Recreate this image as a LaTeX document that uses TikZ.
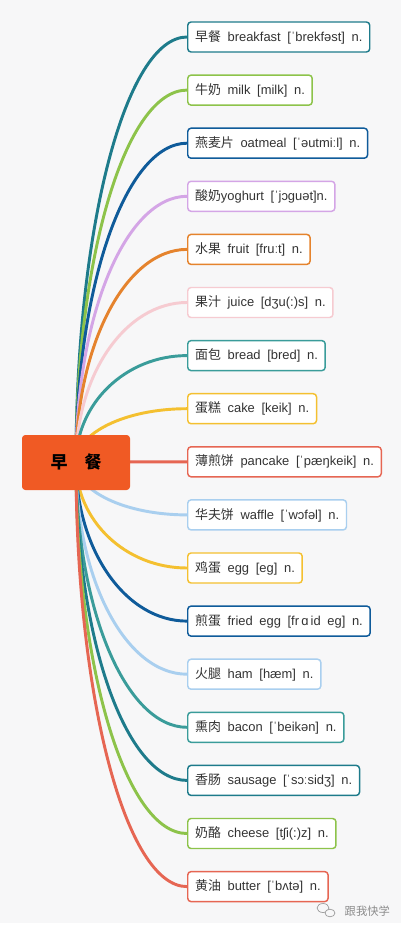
\documentclass[tikz,border=0pt]{standalone}
\usepackage{fontspec}
\setmainfont{Liberation Sans}
\newfontfamily\cjk{Noto Sans CJK SC}
\usetikzlibrary{calc,backgrounds}
\newcommand\zh[1]{{\cjk #1}}
\newcommand\gp{\hspace{5pt}}
\newcommand\entrytext[3]{\zh{#1}\gp #2\gp #3\gp n.}
\definecolor{bgc}{HTML}{F7F7F8}
\definecolor{rootc}{HTML}{F05A24}
\definecolor{tealD}{HTML}{1E7B8B}
\definecolor{greenL}{HTML}{8DC34A}
\definecolor{blueD}{HTML}{0F5B9A}
\definecolor{purpleL}{HTML}{D4A5E6}
\definecolor{orangeM}{HTML}{E5832D}
\definecolor{pinkL}{HTML}{F6CBD1}
\definecolor{tealM}{HTML}{3A9C9A}
\definecolor{yellowM}{HTML}{F4C030}
\definecolor{salmon}{HTML}{E66653}
\definecolor{blueL}{HTML}{A9CFEF}
\begin{document}
\begin{tikzpicture}[x=0.75pt,y=-0.75pt,
  box/.style={draw, line width=1.1pt, fill=white, rounded corners=2.5pt, anchor=west,
    minimum height=22.5pt, inner xsep=5.5pt, inner ysep=0pt,
    font=\fontsize{9.7pt}{11pt}\selectfont, text=black!80},
  link/.style={line width=2.2pt},
  rootbox/.style={fill=rootc, rounded corners=2.5pt, minimum width=81pt, minimum height=41.25pt,
    font=\fontsize{12.75pt}{14pt}\selectfont\bfseries, text=black}]
\useasboundingbox (0,0) rectangle (405,931);
\node[rootbox] (root) at (76,462.5) {\zh{早\hspace{1em}餐}};
\node[box, draw=tealD]   (b1)  at (187,37.0)  {\entrytext{早餐}{breakfast}{[ˈbrekfəst]}};
\node[box, draw=greenL]  (b2)  at (187,90.1)  {\entrytext{牛奶}{milk}{[milk]}};
\node[box, draw=blueD]   (b3)  at (187,143.2) {\entrytext{燕麦片}{oatmeal}{[ˈəutmiːl]}};
\node[box, draw=purpleL] (b4)  at (187,196.3) {\zh{酸奶}yoghurt\gp [ˈjɔguət]n.};
\node[box, draw=orangeM] (b5)  at (187,249.4) {\entrytext{水果}{fruit}{[fruːt]}};
\node[box, draw=pinkL]   (b6)  at (187,302.5) {\entrytext{果汁}{juice}{[dʒu(:)s]}};
\node[box, draw=tealM]   (b7)  at (187,355.6) {\entrytext{面包}{bread}{[bred]}};
\node[box, draw=yellowM] (b8)  at (187,408.7) {\entrytext{蛋糕}{cake}{[keik]}};
\node[box, draw=salmon]  (b9)  at (187,461.8) {\entrytext{薄煎饼}{pancake}{[ˈpæŋkeik]}};
\node[box, draw=blueL]   (b10) at (187,514.9) {\entrytext{华夫饼}{waffle}{[ˈwɔfəl]}};
\node[box, draw=yellowM] (b11) at (187,568.0) {\entrytext{鸡蛋}{egg}{[eg]}};
\node[box, draw=blueD]   (b12) at (187,621.1) {\entrytext{煎蛋}{fried\gp egg}{[fr\,ɑ\,id\gp eg]}};
\node[box, draw=blueL]   (b13) at (187,674.2) {\entrytext{火腿}{ham}{[hæm]}};
\node[box, draw=tealM]   (b14) at (187,727.3) {\entrytext{熏肉}{bacon}{[ˈbeikən]}};
\node[box, draw=tealD]   (b15) at (187,780.4) {\entrytext{香肠}{sausage}{[ˈsɔːsidʒ]}};
\node[box, draw=greenL]  (b16) at (187,833.5) {\entrytext{奶酪}{cheese}{[tʃi(:)z]}};
\node[box, draw=salmon]  (b17) at (187,886.6) {\entrytext{黄油}{butter}{[ˈbʌtə]}};
\node[font=\fontsize{8.5pt}{10pt}\selectfont, text=black!45, anchor=west] (wm) at (340,911) {\zh{跟我快学}};
\draw[black!40, line width=0.5pt] (323,908) ellipse (6 and 4.5);
\draw[black!40, line width=0.5pt, fill=bgc] (330,913) ellipse (5 and 3.8);
\begin{pgfonlayer}{background}
  \fill[white] (0,0) rectangle (405,931);
  \fill[bgc] (0,0) rectangle (401,923);
  \foreach \i/\c in {1/tealD,2/greenL,3/blueD,4/purpleL,5/orangeM,6/pinkL,7/tealM,8/yellowM,9/salmon,
      10/blueL,11/yellowM,12/blueD,13/blueL,14/tealM,15/tealD,16/greenL,17/salmon}{
    \draw[link, \c] (root.center)
      .. controls ($(root.center)!0.5523!(root.center|-b\i.west)$)
      and ($(b\i.west)!0.5523!(root.center|-b\i.west)$) .. (b\i.west);
  }
\end{pgfonlayer}
\end{tikzpicture}
\end{document}
